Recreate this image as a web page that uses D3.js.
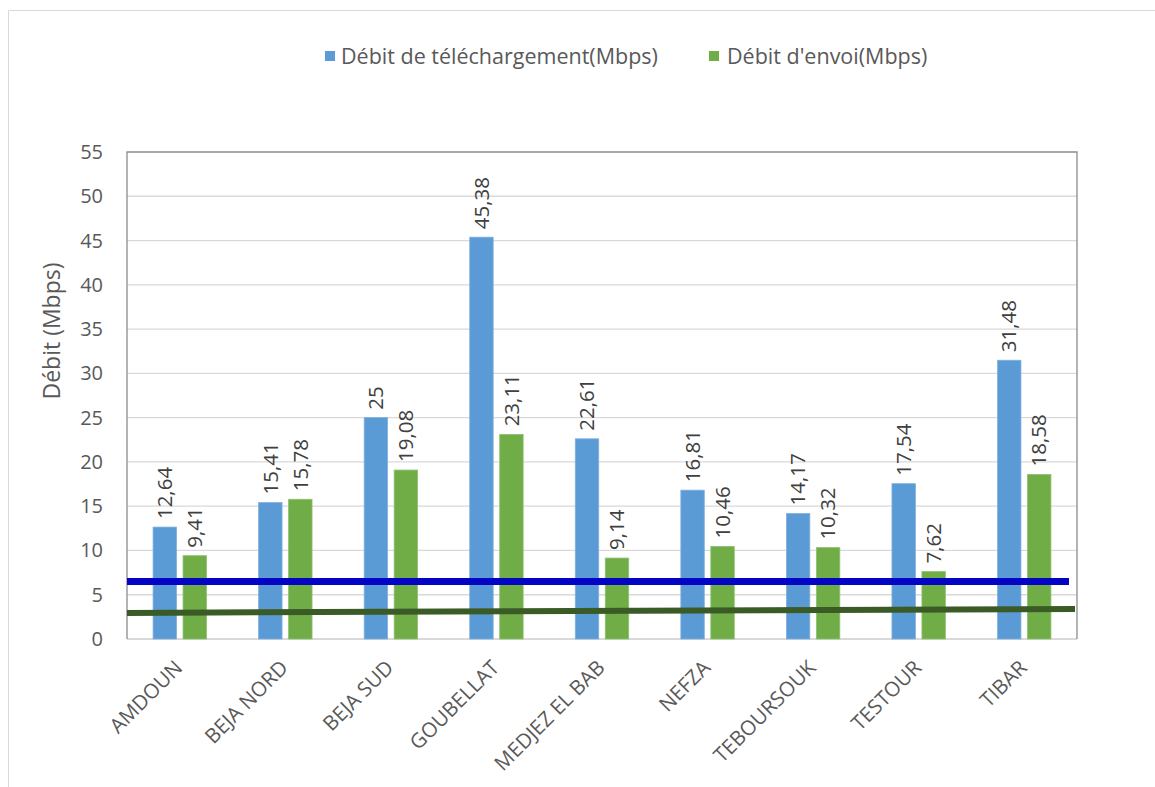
<!DOCTYPE html>
<html><head><meta charset="utf-8">
<script src="https://cdn.jsdelivr.net/npm/d3@7"></script>
<style>
html,body{margin:0;padding:0;background:#fff;}
svg{display:block;font-family:"Open Sans",Lato,sans-serif;}
</style></head><body>
<svg id="c" width="1155" height="787"></svg>
<script>
const categories = ["AMDOUN","BEJA NORD","BEJA SUD","GOUBELLAT","MEDJEZ EL BAB","NEFZA","TEBOURSOUK","TESTOUR","TIBAR"];
const seriesNames = ["Débit de téléchargement(Mbps)","Débit d'envoi(Mbps)"];
const download = [12.64,15.41,25,45.38,22.61,16.81,14.17,17.54,31.48];
const upload = [9.41,15.78,19.08,23.11,9.14,10.46,10.32,7.62,18.58];
const yTicks = [0,5,10,15,20,25,30,35,40,45,50,55];
const blueLine = [6.5,6.5];
const greenLine = [2.95,3.4];
const colors = ["#5B9BD5","#70AD47"];
const outlines = ["#7FB0DE","#8DC070"];

const svg = d3.select("#c");
const L=127,R=1077,T=152,B=639;
// outer frame
svg.append("path").attr("d","M8.5,787 V10.5 H1155").attr("fill","none").attr("stroke","#D9D9D9").attr("stroke-width",1);

const x0 = d3.scaleBand().domain(categories).range([L,R]).padding(0);
const y = d3.scaleLinear().domain([0,55]).range([B,T]);
const bw = x0.bandwidth()*0.222, gap = x0.bandwidth()*0.062;

// gridlines
svg.append("g").selectAll("line").data(yTicks.filter(d=>d>0&&d<55)).join("line")
 .attr("x1",L).attr("x2",R).attr("y1",d=>y(d)).attr("y2",d=>y(d))
 .attr("stroke","#D9D9D9").attr("stroke-width",1.3);
// borders
svg.append("line").attr("x1",L).attr("x2",R).attr("y1",B).attr("y2",B).attr("stroke","#D9D9D9").attr("stroke-width",2);
svg.append("path").attr("d",`M${L},${B} V${T} H${R} V${B}`).attr("fill","none").attr("stroke","#8C8C8C").attr("stroke-width",1.3);

// y ticks
svg.append("g").selectAll("text").data(yTicks).join("text")
 .attr("x",103).attr("y",d=>y(d)).attr("dy","0.35em").attr("text-anchor","end")
 .attr("fill","#595959").attr("font-size",20).text(d=>d);
svg.append("text").attr("transform",`translate(60,331) rotate(-90)`)
 .attr("text-anchor","middle").attr("fill","#595959").attr("font-size",23).text("Débit (Mbps)");

const fmt = v=>String(v).replace(".",",");
const data = [download, upload];
data.forEach((vals,si)=>{
  const g = svg.append("g");
  const bx = c => x0(c)+x0.bandwidth()/2 + (si===0 ? -(bw+gap/2) : gap/2);
  g.selectAll("rect").data(categories).join("rect")
   .attr("x",c=>bx(c)).attr("width",bw)
   .attr("y",(c,i)=>y(vals[i])).attr("height",(c,i)=>B-y(vals[i]))
   .attr("fill",colors[si]).attr("stroke",outlines[si]).attr("stroke-width",0.8);
  g.selectAll("text").data(categories).join("text")
   .attr("transform",(c,i)=>`translate(${bx(c)+bw/2},${y(vals[i])-8}) rotate(-90)`)
   .attr("dy","0.35em").attr("fill","#404040").attr("font-size",20.5)
   .text((c,i)=>fmt(vals[i]));
});

// reference lines
svg.append("line").attr("x1",L).attr("x2",1069).attr("y1",y(blueLine[0])).attr("y2",y(blueLine[1]))
 .attr("stroke","#0404C4").attr("stroke-width",7);
svg.append("line").attr("x1",L).attr("x2",1075).attr("y1",y(greenLine[0])).attr("y2",y(greenLine[1]))
 .attr("stroke","#3A5A26").attr("stroke-width",6);

// x labels
svg.append("g").selectAll("text").data(categories).join("text")
 .attr("transform",c=>`translate(${x0(c)+x0.bandwidth()/2+4},${B+30}) rotate(-45)`)
 .attr("text-anchor","end").attr("fill","#595959").attr("font-size",20.5).text(c=>c);

// legend
const leg = [{x:325,tx:341},{x:709,tx:727}];
leg.forEach((p,i)=>{
  svg.append("rect").attr("x",p.x).attr("y",51).attr("width",10).attr("height",10).attr("fill",colors[i]);
  svg.append("text").attr("x",p.tx).attr("y",56).attr("dy","0.35em").attr("fill","#595959").attr("font-size",21.5).text(seriesNames[i]);
});
</script></body></html>
